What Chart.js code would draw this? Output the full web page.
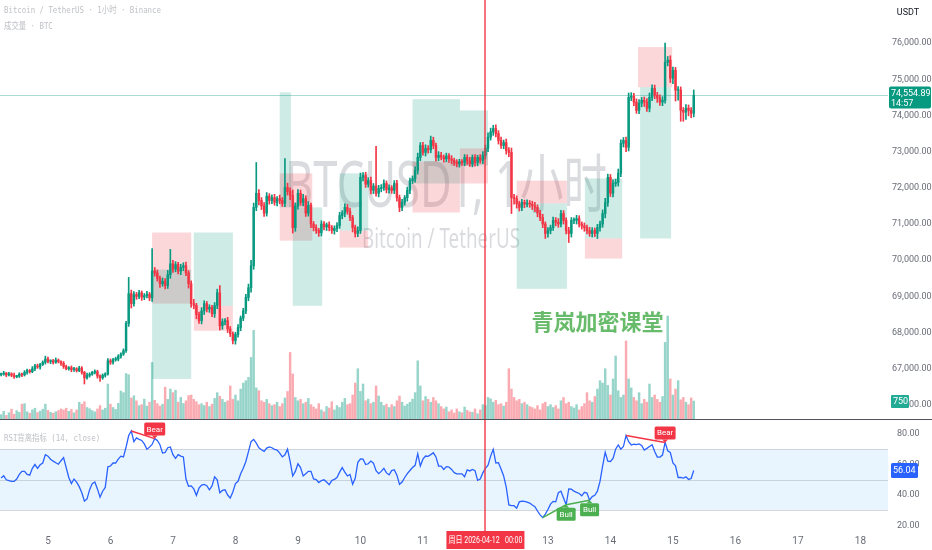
<!DOCTYPE html>
<html><head><meta charset="utf-8">
<script src="https://cdn.jsdelivr.net/npm/chart.js@4.4.1/dist/chart.umd.min.js"></script>
<style>
html,body{margin:0;padding:0;background:#fff;width:932px;height:550px;overflow:hidden;}
#wrap{position:relative;width:932px;height:550px;font-family:"Noto Sans","Noto Sans CJK SC",sans-serif;}
canvas{position:absolute;left:0;}
#main{top:0;}
#rsi{top:420px;}
#sep{position:absolute;left:0;top:419px;width:932px;height:1px;background:#50535e;}
.hdr{position:absolute;left:4px;font-size:9px;color:#bfc1c6;white-space:nowrap;font-family:"DejaVu Sans Mono","Noto Sans CJK SC",monospace;transform:scaleX(0.82);transform-origin:left top;}
</style></head><body>
<div id="wrap">
<canvas id="main" width="932" height="419"></canvas>
<div id="sep"></div>
<canvas id="rsi" width="932" height="130"></canvas>
<div class="hdr" style="top:3px">Bitcoin / TetherUS · 1小时 · Binance</div>
<div class="hdr" style="top:19px">成交量 · BTC</div>
<div class="hdr" style="top:431px">RSI背离指标 (14, close)</div>
</div>
<script>
// ---------- DATA ----------
const firstOpen = 66840;
const closes = [66850,66880,66830,66860,66820,66780,66800,66850,66830,66900,
66950,66920,67000,67080,67050,67120,67180,67270,67200,67220,
67180,67240,67200,67150,67060,67000,67030,66980,67000,66950,
67020,66900,66750,66820,66850,66900,66920,66800,66750,66820,
66860,67220,67180,67250,67270,67350,67410,67500,68250,69075,
68800,69050,69000,69100,68980,69020,69060,68960,69700,69650,
69500,69350,69420,69300,69600,69900,69750,69880,69700,69800,
69850,69650,69350,68800,68750,68500,68330,68600,68800,68650,
68700,68520,68750,69100,68190,68300,68330,68100,67970,67780,
67950,68140,68400,68600,68970,69240,69850,71460,71850,71650,
71500,71300,71770,71650,71730,71600,71700,71650,71570,72010,
71900,71790,70900,71500,71850,71600,71700,71300,71520,71000,
70900,70820,70760,71000,70920,70980,70900,70820,70880,70960,
71235,71300,71460,71350,71180,70900,70740,70820,72290,72340,
72100,72200,71930,72050,71850,71980,72010,72120,71950,72000,
71930,72120,71730,71460,71600,71730,71930,72200,72250,72480,
72840,73170,72980,73090,73050,73310,73170,72840,72900,72850,
72800,72880,72800,72760,72700,72670,72720,72700,72840,72750,
72670,72840,72700,72840,72760,72900,73090,73400,73550,73640,
73500,73310,73170,73250,73030,72980,71730,71700,71560,71460,
71600,71550,71580,71550,71500,71460,71300,71180,71000,70740,
70820,70900,71100,71050,71000,71290,71100,70820,70740,71100,
71100,71150,71000,70950,70900,70820,70740,70820,70740,70900,
71000,71290,71590,72290,71850,72120,72150,72400,73230,73310,
73120,74500,74530,74370,74140,74340,74420,74370,74200,74500,
74750,74560,74480,74370,74420,75470,75530,75030,75250,74700,
74700,74140,74090,74200,74140,74060,74554.89];
// wick extensions beyond the body, in tens of USDT
const wickUp = [3,5,2,4,3,6,2,4,3,5, 4,3,6,4,5,3,4,8,5,3, 4,6,3,2,5,4,3,5,4,3, 5,4,3,6,4,3,5,4,3,4,
3,6,5,4,5,4,3,5,6,45, 10,8,6,7,5,6,8,5,62,10, 8,6,9,7,12,40,10,8,6,9, 8,10,6,8,12,6,7,9,8,6,
7,5,8,10,20,8,6,9,7,5, 6,8,6,7,9,10,15,12,85,10, 8,9,10,7,8,9,6,10,8,80, 12,10,15,8,10,9,12,8,10,6,
7,8,6,9,7,5,8,6,7,8, 9,7,10,8,9,6,7,10,12,8, 9,8,10,7,110,9,8,10,7,8, 6,8,9,7,8,6,9,7,8,10,
12,8,9,10,8,12,9,7,10,8, 6,8,7,9,6,8,7,6,8,7, 9,7,8,6,8,10,9,12,10,9, 10,8,9,7,10,8,12,9,8,7,
8,6,9,7,8,10,7,8,9,6, 8,7,9,8,10,9,8,7,9,8, 7,9,8,6,8,7,9,8,7,9, 8,10,12,9,8,10,9,12,10,8,
9,12,10,8,9,10,8,9,10,12, 10,9,8,9,10,53,10,12,9,8, 10,9,8,10,9,8,15];
const wickDn = [4,3,5,3,4,5,3,4,5,3, 5,4,3,5,4,6,3,5,4,6, 5,3,4,6,5,3,4,6,5,4, 3,5,17,4,5,3,4,6,10,4,
5,4,6,5,4,5,6,4,5,8, 12,7,8,6,9,7,6,8,10,9, 8,10,7,9,8,10,9,7,8,10, 9,8,12,10,9,12,8,9,10,8,
9,8,10,9,12,10,9,10,8,9, 10,8,9,7,8,9,12,10,9,12, 10,9,8,10,9,8,10,9,8,9, 10,12,15,10,9,8,10,9,8,10,
9,8,10,9,8,10,9,8,10,9, 8,9,10,8,9,12,10,9,8,10, 9,8,10,9,8,10,9,8,9,10, 8,9,10,12,9,8,10,9,8,9,
10,9,8,10,9,8,9,10,9,8, 9,8,10,9,8,9,10,8,9,10, 8,9,10,9,8,9,10,9,8,10, 9,10,8,9,10,12,44,15,12,10,
9,10,8,9,10,12,10,9,10,14, 10,9,8,10,9,8,10,9,25,10, 9,10,8,9,10,9,8,10,9,14, 10,9,12,10,9,10,8,10,9,10,
12,10,9,10,8,9,10,12,9,10, 9,10,12,9,10,8,10,12,15,30, 28,30,25,20,15,12,10];
const volumes = [180,320,150,260,410,200,350,280,620,640, 300,240,380,450,270,330,410,620,360,280,
240,300,350,420,380,450,320,400,260,380, 700,620,720,480,430,350,300,420,560,380,
450,1460,620,480,400,650,1170,1100,1900,1850, 880,970,760,560,600,830,540,700,2360,780,
640,540,620,1330,820,1250,1100,1200,700,900, 650,760,980,1000,820,720,600,640,560,700,
520,620,860,1100,950,820,700,760,1380,820, 1000,760,1250,1500,1600,1740,2570,3700,1300,1180,
760,700,820,640,560,600,700,520,640,880, 1150,2780,1880,900,760,820,640,700,860,600,
500,420,640,380,300,520,460,720,380,560, 480,700,860,600,640,1000,1500,2100,1150,1460,
760,830,640,700,1380,960,700,560,620,480, 600,520,760,960,700,540,620,700,830,1100,
2430,1380,760,940,820,700,900,760,640,520, 420,500,300,380,250,420,300,260,500,360,
300,280,420,220,380,600,560,900,840,700, 780,600,640,540,700,2100,1250,900,760,820,
640,700,600,520,480,420,560,380,640,700, 520,600,480,560,420,760,900,640,700,520,
460,600,380,520,640,1100,760,700,940,1250, 1600,1500,2100,1400,1000,1670,2630,1180,900,1000,
3260,1670,1300,900,760,1100,640,820,700,1460, 900,1000,820,700,940,3200,4300,1670,1000,1250,
1600,800,900,700,600,880,750];
const rsiValues = [51.1,52.6,50.0,49.5,48.9,48.9,50.5,53.5,55.5,55.5,
53.5,53.0,57.5,60.0,57.5,59.8,61.0,66.5,65.5,63.5,
62.2,61.2,60.2,62.5,64.5,58.0,51.5,47.5,50.5,48.5,
45.5,41.5,36.0,37.5,43.5,47.5,48.5,44.0,38.6,42.5,
45.0,58.5,59.0,61.0,61.0,63.5,65.5,65.0,71.5,79.0,
82.0,75.0,77.5,76.5,75.8,73.5,70.0,71.4,73.2,77.0,
75.8,73.0,67.5,67.9,71.0,71.5,66.5,64.0,66.5,65.5,
65.0,50.5,45.8,46.0,44.0,39.8,44.5,46.5,47.0,46.1,
43.4,46.0,52.0,50.0,41.5,43.0,43.4,40.0,38.0,42.0,
47.5,49.0,54.0,57.5,62.0,68.5,75.0,76.5,74.0,71.0,
69.7,68.6,70.8,71.6,71.0,70.0,69.5,67.5,65.0,66.4,
70.1,62.0,52.5,55.5,60.5,58.0,52.5,54.0,55.5,55.5,
50.6,50.1,48.2,49.5,50.0,48.5,46.8,49.5,50.3,51.5,
55.0,58.0,55.0,52.5,53.5,47.0,51.0,61.5,63.6,63.5,
60.0,60.5,62.3,60.9,56.0,54.0,55.5,57.5,54.5,53.3,
56.0,56.6,53.0,47.0,48.5,51.5,54.0,56.1,58.0,59.5,
67.1,59.0,63.5,65.6,65.4,66.5,67.7,65.0,59.0,59.0,
56.8,58.6,58.3,56.8,54.7,53.9,53.9,53.9,52.0,56.5,
55.8,56.8,56.0,49.6,50.5,54.5,57.5,59.5,65.5,70.0,
61.0,61.2,57.0,52.5,45.0,33.5,33.0,33.0,31.4,35.5,
36.0,35.8,35.3,34.7,33.4,32.4,29.5,27.0,25.2,27.5,
30.5,34.0,35.8,35.5,41.5,42.5,38.0,33.6,44.0,43.8,
42.5,41.7,41.0,39.5,41.8,41.3,36.6,39.0,39.8,42.5,
48.9,59.0,68.0,62.2,62.0,64.0,70.0,72.8,70.1,71.8,
79.0,75.0,72.8,73.3,73.0,73.5,72.5,69.5,70.6,71.8,
73.0,68.6,64.9,64.9,66.2,74.5,69.0,68.0,61.0,59.2,
51.5,51.6,51.1,51.9,50.2,50.8,56.04];
// order-block boxes (candle index range, price range)
const boxStart = [58,58,74,74,107,107,112,130,130,158,176.2,158,176.2,198,198,224.2,224.2,244.6,245.4];
const boxEnd   = [73,73,89,89,111.3,119.5,123.3,141,141,176.2,187,176.2,187,217.3,217.3,238.5,238.5,257.7,257.3];
const boxTop   = [70765,69740,70765,68740,74640,72400,71460,72400,70820,74450,74140,72730,73090,72200,71570,72260,70600,75890,74780];
const boxBot   = [68800,66720,68740,68050,71460,70540,68740,70820,70350,72120,72620,71320,72120,71570,69210,70600,70045,74780,70600];
const boxKind  = ['bear','bull','bull','bear','bull','bear','bull','bull','bear','bull','bull','bear','bear','bear','bull','bull','bear','bear','bull'];
// RSI divergences
const divFrom = [50,208,217,240];
const divTo   = [59,217,226,255];
const divKind = ['bear','bull','bull','bear'];
const divLabelAt = [59,217,226,255];
// axes
const priceTicks = [66000,67000,68000,69000,70000,71000,72000,73000,74000,75000,76000];
const rsiTicks = [20,40,60,80];
const dayTickIdx = [18,42,66,90,114,138,162,186,210,234,258,282,306,330];
const dayTickLabels = ['5','6','7','8','9','10','11','12','13','14','15','16','17','18'];
const crossIdx = 186;
const crossLabel = '周日 2026-04-12   00:00';
const lastPrice = 74554.89, countdown = '14:57', lastVolLabel = '750';
const watermarkTitle = 'BTCUSDT, 1小时', watermarkSub = 'Bitcoin / TetherUS', brandText = '青岚加密课堂';

// ---------- DERIVED ----------
const idx = closes.map((_, i) => i);
const opens = closes.map((c, i) => i === 0 ? firstOpen : closes[i - 1]);
const highs = closes.map((c, i) => Math.max(opens[i], c) + wickUp[i] * 10);
const lows = closes.map((c, i) => Math.min(opens[i], c) - wickDn[i] * 10);
const UP = '#089981', DN = '#f23645', CROSS = '#f23645';
const candleCol = closes.map((c, i) => c >= opens[i] ? UP : DN);
const volCol = closes.map((c, i) => c >= opens[i] ? 'rgba(8,153,129,0.42)' : 'rgba(242,54,69,0.42)');
const XMIN = -0.42, XMAX = 340.6;
const tickFont = {family: 'Roboto, "Noto Sans", sans-serif', size: 9};
const tickColor = '#6a6d78';
const fmt = v => v.toLocaleString('en-US', {minimumFractionDigits: 2, maximumFractionDigits: 2});

function roundRect(ctx, x, y, w, h, r) {
  ctx.beginPath();
  ctx.moveTo(x + r, y); ctx.lineTo(x + w - r, y); ctx.quadraticCurveTo(x + w, y, x + w, y + r);
  ctx.lineTo(x + w, y + h - r); ctx.quadraticCurveTo(x + w, y + h, x + w - r, y + h);
  ctx.lineTo(x + r, y + h); ctx.quadraticCurveTo(x, y + h, x, y + h - r);
  ctx.lineTo(x, y + r); ctx.quadraticCurveTo(x, y, x + r, y); ctx.closePath();
}
function vline(ctx, px, top, bottom) {
  ctx.save();
  ctx.fillStyle = 'rgba(242,54,69,0.7)';
  ctx.fillRect(Math.round(px) - 1, top, 2, bottom - top);
  ctx.restore();
}

const mainOverlay = {
  id: 'mainOverlay',
  beforeDatasetsDraw(chart) {
    const {ctx, chartArea: a, scales: {x, y}} = chart;
    ctx.save();
    const cx = (a.left + a.right) / 2;
    ctx.fillStyle = 'rgba(120,123,134,0.27)';
    ctx.textAlign = 'center'; ctx.textBaseline = 'middle';
    ctx.font = '64px "Noto Sans","Noto Sans CJK SC",sans-serif';
    ctx.fillText(watermarkTitle, cx + 2, a.top + (a.bottom - a.top) * 0.45, 322);
    ctx.font = '28px "Noto Sans",sans-serif';
    ctx.fillText(watermarkSub, cx - 3, a.top + (a.bottom - a.top) * 0.574, 158);
    for (let k = 0; k < boxStart.length; k++) {
      const x0 = x.getPixelForValue(boxStart[k]), x1 = x.getPixelForValue(boxEnd[k]);
      const y0 = y.getPixelForValue(boxTop[k]), y1 = y.getPixelForValue(boxBot[k]);
      ctx.fillStyle = boxKind[k] === 'bull' ? 'rgba(8,153,129,0.2)' : 'rgba(242,54,69,0.2)';
      ctx.fillRect(x0, y0, x1 - x0, y1 - y0);
    }
    const py = Math.round(y.getPixelForValue(lastPrice)) + 0.5;
    ctx.strokeStyle = 'rgba(8,153,129,0.35)'; ctx.lineWidth = 1;
    ctx.beginPath(); ctx.moveTo(a.left, py); ctx.lineTo(a.right, py); ctx.stroke();
    ctx.restore();
  },
  afterDatasetsDraw(chart) {
    const {ctx, chartArea: a, scales: {x, y}} = chart;
    ctx.save();
    ctx.fillStyle = 'rgba(76,175,80,0.85)';
    ctx.font = 'bold 22px "Noto Sans CJK SC",sans-serif';
    ctx.textAlign = 'center'; ctx.textBaseline = 'middle';
    ctx.fillText(brandText, x.getPixelForValue(229), y.getPixelForValue(68300));
    ctx.restore();
    vline(ctx, x.getPixelForValue(crossIdx), a.top, a.bottom);
  },
  afterDraw(chart) {
    const {ctx, chartArea: a, scales: {y, yv}} = chart;
    ctx.save();
    const py = y.getPixelForValue(lastPrice);
    ctx.fillStyle = UP;
    roundRect(ctx, a.right + 1, py - 9, 42, 22, 2); ctx.fill();
    ctx.fillStyle = '#fff'; ctx.font = '9px Roboto, "Noto Sans", sans-serif';
    ctx.textAlign = 'left'; ctx.textBaseline = 'middle';
    ctx.fillText(fmt(lastPrice), a.right + 3, py - 2);
    ctx.fillText(countdown, a.right + 3, py + 8);
    const vy = yv.getPixelForValue(volumes[volumes.length - 1]);
    ctx.fillStyle = '#22ab94';
    roundRect(ctx, a.right + 3, vy - 6, 18, 13, 1); ctx.fill();
    ctx.fillStyle = '#fff'; ctx.fillText(lastVolLabel, a.right + 5, vy + 0.5);
    ctx.fillStyle = '#131722'; ctx.font = '9px Roboto, "Noto Sans", sans-serif';
    ctx.textAlign = 'center';
    ctx.fillText('USDT', a.right + 20, 13);
    ctx.restore();
  }
};

new Chart(document.getElementById('main'), {
  type: 'bar',
  data: {
    datasets: [
      {label: 'body', data: idx.map(i => ({x: i, y: [opens[i], closes[i]]})), backgroundColor: candleCol,
       barThickness: 1.8, minBarLength: 1, grouped: false, yAxisID: 'y', order: 1},
      {label: 'wick', data: idx.map(i => ({x: i, y: [lows[i], highs[i]]})), backgroundColor: candleCol,
       barThickness: 1, grouped: false, yAxisID: 'y', order: 2},
      {label: 'volume', data: idx.map(i => ({x: i, y: volumes[i]})), backgroundColor: volCol,
       barThickness: 1.8, grouped: false, yAxisID: 'yv', order: 3}
    ]
  },
  options: {
    responsive: false, animation: false, devicePixelRatio: 1,
    layout: {padding: 0},
    plugins: {legend: {display: false}, tooltip: {enabled: false}},
    scales: {
      x: {type: 'linear', min: XMIN, max: XMAX, display: false, offset: false, grid: {display: false}},
      y: {position: 'right', min: 65612, max: 77191, beginAtZero: false,
          grid: {display: false, drawTicks: false}, border: {display: false},
          ticks: {padding: 4, font: tickFont, color: tickColor, callback: v => fmt(v)},
          afterBuildTicks: s => { s.ticks = priceTicks.map(v => ({value: v})); },
          afterFit: s => { s.width = 44; s.paddingTop = 0; s.paddingBottom = 0; }},
      yv: {display: false, min: 0, max: 17500, beginAtZero: true}
    }
  },
  plugins: [mainOverlay]
});

const rsiOverlay = {
  id: 'rsiOverlay',
  beforeDatasetsDraw(chart) {
    const {ctx, chartArea: a, scales: {y}} = chart;
    ctx.save();
    const y70 = y.getPixelForValue(70), y30 = y.getPixelForValue(30), y50 = y.getPixelForValue(50);
    ctx.fillStyle = 'rgba(33,150,243,0.1)';
    ctx.fillRect(a.left, y70, a.right - a.left, y30 - y70);
    ctx.strokeStyle = 'rgba(120,123,134,0.28)'; ctx.lineWidth = 1;
    [y70, y50, y30].forEach(v => { const p = Math.round(v) + 0.5; ctx.beginPath(); ctx.moveTo(a.left, p); ctx.lineTo(a.right, p); ctx.stroke(); });
    ctx.restore();
  },
  afterDatasetsDraw(chart) {
    const {ctx, chartArea: a, scales: {x, y}} = chart;
    ctx.save();
    for (let k = 0; k < divFrom.length; k++) {
      const col = divKind[k] === 'bear' ? '#f23645' : '#4caf50';
      ctx.strokeStyle = col; ctx.lineWidth = 1.5;
      ctx.beginPath();
      ctx.moveTo(x.getPixelForValue(divFrom[k]), y.getPixelForValue(rsiValues[divFrom[k]]));
      ctx.lineTo(x.getPixelForValue(divTo[k]), y.getPixelForValue(rsiValues[divTo[k]]));
      ctx.stroke();
    }
    ctx.font = '8px Roboto, "Noto Sans", sans-serif';
    ctx.textAlign = 'center'; ctx.textBaseline = 'middle';
    for (let k = 0; k < divLabelAt.length; k++) {
      const bear = divKind[k] === 'bear';
      const px = x.getPixelForValue(divLabelAt[k]), py = y.getPixelForValue(rsiValues[divLabelAt[k]]);
      const w = bear ? 21 : 19, h = 13;
      const by = bear ? py - 3 - h : py + 3;
      ctx.fillStyle = bear ? '#f23645' : '#4caf50';
      roundRect(ctx, px - w / 2, by, w, h, 1.5); ctx.fill();
      ctx.beginPath();
      if (bear) { ctx.moveTo(px - 3, by + h); ctx.lineTo(px + 3, by + h); ctx.lineTo(px, by + h + 3); }
      else { ctx.moveTo(px - 3, by); ctx.lineTo(px + 3, by); ctx.lineTo(px, by - 3); }
      ctx.fill();
      ctx.fillStyle = '#fff';
      ctx.fillText(bear ? 'Bear' : 'Bull', px, by + h / 2 + 0.5);
    }
    ctx.restore();
    vline(ctx, x.getPixelForValue(crossIdx), a.top, a.bottom);
  },
  afterDraw(chart) {
    const {ctx, chartArea: a, scales: {x, y}} = chart;
    ctx.save();
    const last = rsiValues[rsiValues.length - 1];
    const py = y.getPixelForValue(last);
    ctx.fillStyle = '#2962ff';
    roundRect(ctx, a.right + 3, py - 7.5, 27, 15, 1.5); ctx.fill();
    ctx.fillStyle = '#fff'; ctx.font = '9px Roboto, "Noto Sans", sans-serif';
    ctx.textAlign = 'left'; ctx.textBaseline = 'middle';
    ctx.fillText(last.toFixed(2), a.right + 5, py + 0.5);
    const cx = x.getPixelForValue(crossIdx);
    ctx.fillStyle = CROSS;
    ctx.fillRect(cx - 39, a.bottom, 78, 18);
    ctx.fillStyle = '#fff'; ctx.textAlign = 'center';
    ctx.font = '9px Roboto, "Noto Sans CJK SC", sans-serif';
    ctx.fillText(crossLabel, cx, a.bottom + 9.5, 74);
    ctx.restore();
  }
};

new Chart(document.getElementById('rsi'), {
  type: 'line',
  data: {datasets: [{label: 'RSI', data: idx.map(i => ({x: i, y: rsiValues[i]})), borderColor: '#2962ff',
    borderWidth: 1.3, pointRadius: 0, tension: 0, fill: false}]},
  options: {
    responsive: false, animation: false, devicePixelRatio: 1,
    layout: {padding: 0},
    plugins: {legend: {display: false}, tooltip: {enabled: false}},
    scales: {
      x: {type: 'linear', min: XMIN, max: XMAX, grid: {display: false, drawTicks: false}, border: {display: false},
          ticks: {autoSkip: false, maxRotation: 0, padding: 4, font: {family: 'Roboto, "Noto Sans", sans-serif', size: 10}, color: tickColor,
                  callback: (v, i) => dayTickLabels[i]},
          afterBuildTicks: s => { s.ticks = dayTickIdx.map(v => ({value: v})); },
          afterFit: s => { s.height = 19; s.paddingLeft = 0; s.paddingRight = 0; }},
      y: {position: 'right', min: 16.4, max: 89.2,
          grid: {display: false, drawTicks: false}, border: {display: false},
          ticks: {padding: 9, font: tickFont, color: tickColor, callback: v => v.toFixed(2)},
          afterBuildTicks: s => { s.ticks = rsiTicks.map(v => ({value: v})); },
          afterFit: s => { s.width = 44; s.paddingTop = 0; s.paddingBottom = 0; }}
    }
  },
  plugins: [rsiOverlay]
});
</script>
</body></html>
